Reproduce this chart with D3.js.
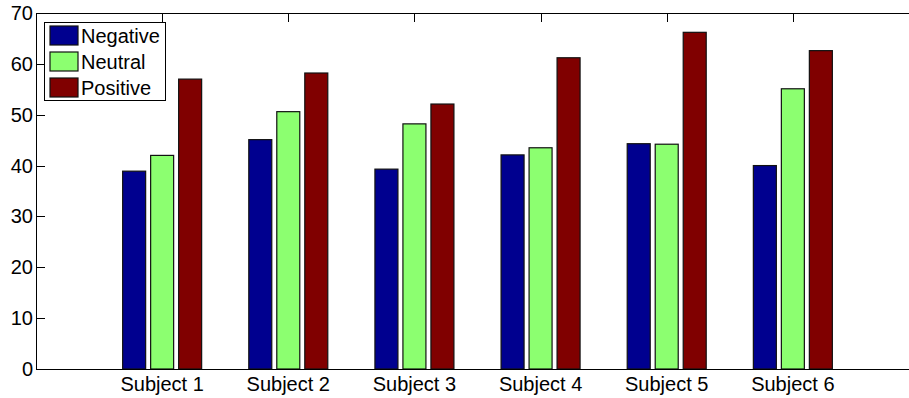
<!DOCTYPE html>
<html><head><meta charset="utf-8">
<script src="https://cdn.jsdelivr.net/npm/d3@7"></script>
<style>body{margin:0;background:#fff}svg{display:block}text{font-family:"Liberation Sans",Arial,sans-serif}</style>
</head><body><svg id="c" width="909" height="398"></svg>
<script>
const categories = ["Subject 1","Subject 2","Subject 3","Subject 4","Subject 5","Subject 6"];
const seriesNames = ["Negative","Neutral","Positive"];
const negative = [38.9, 45.1, 39.3, 42.1, 44.3, 40.0];
const neutral  = [42.0, 50.6, 48.2, 43.5, 44.2, 55.1];
const positive = [57.0, 58.2, 52.1, 61.2, 66.2, 62.6];
const yTicks = [0,10,20,30,40,50,60,70];
const colors = ["#00008f","#8cff70","#800000"];
const values = [negative, neutral, positive];

const svg = d3.select("#c");
const L=36, R=919, T=13, B=369;
const x = d3.scaleLinear().domain([0,7]).range([L,R]);
const y = d3.scaleLinear().domain([0,70]).range([B,T]);
const off = d3.scalePoint().domain(seriesNames).range([-28,28]);
const bw = 23;
const fs = "20px";

// axes ticks (drawn first so bars cover the bottom ticks)
const g = svg.append("g").attr("stroke","#000").attr("stroke-width",1).attr("fill","none");
const tl=9;
yTicks.forEach(t=>{
  g.append("line").attr("x1",L).attr("x2",L+tl).attr("y1",Math.round(y(t))+0.5).attr("y2",Math.round(y(t))+0.5);
  g.append("line").attr("x1",R-tl).attr("x2",R).attr("y1",Math.round(y(t))+0.5).attr("y2",Math.round(y(t))+0.5);
});
categories.forEach((c,i)=>{
  const xx=Math.round(x(i+1))+0.5;
  g.append("line").attr("x1",xx).attr("x2",xx).attr("y1",T).attr("y2",T+tl);
  g.append("line").attr("x1",xx).attr("x2",xx).attr("y1",B).attr("y2",B-tl);
});

// bars
seriesNames.forEach((s,si)=>{
  svg.append("g").selectAll("rect").data(values[si]).join("rect")
    .attr("x",(d,i)=>x(i+1)+off(s)-bw/2)
    .attr("y",d=>y(d))
    .attr("width",bw)
    .attr("height",d=>y(0)-y(d))
    .attr("fill",colors[si])
    .attr("stroke","#111").attr("stroke-width",1.2);
});

// axes box
svg.append("rect").attr("x",L+0.5).attr("y",T+0.5).attr("width",R-L).attr("height",B-T)
  .attr("fill","none").attr("stroke","#000");

// tick labels
svg.append("g").selectAll("text").data(yTicks).join("text")
  .attr("x",L-3).attr("y",d=>y(d)).attr("dy","0.35em").attr("text-anchor","end")
  .attr("font-size",fs).attr("fill","#000").text(d=>d);
svg.append("g").selectAll("text").data(categories).join("text")
  .attr("x",(d,i)=>x(i+1)).attr("y",391).attr("text-anchor","middle")
  .attr("font-size",fs).attr("fill","#000").text(d=>d);

// legend
const lg = svg.append("g");
lg.append("rect").attr("x",44.5).attr("y",22.5).attr("width",121).attr("height",78)
  .attr("fill","#fff").attr("stroke","#000");
seriesNames.forEach((s,i)=>{
  const cy = 35.5 + i*26;
  lg.append("rect").attr("x",50).attr("y",cy-9.5).attr("width",28).attr("height",19)
    .attr("fill",colors[i]).attr("stroke","#111").attr("stroke-width",1.2);
  lg.append("text").attr("x",81).attr("y",cy).attr("dy","0.35em")
    .attr("font-size",fs).attr("fill","#000").text(s);
});
</script></body></html>
